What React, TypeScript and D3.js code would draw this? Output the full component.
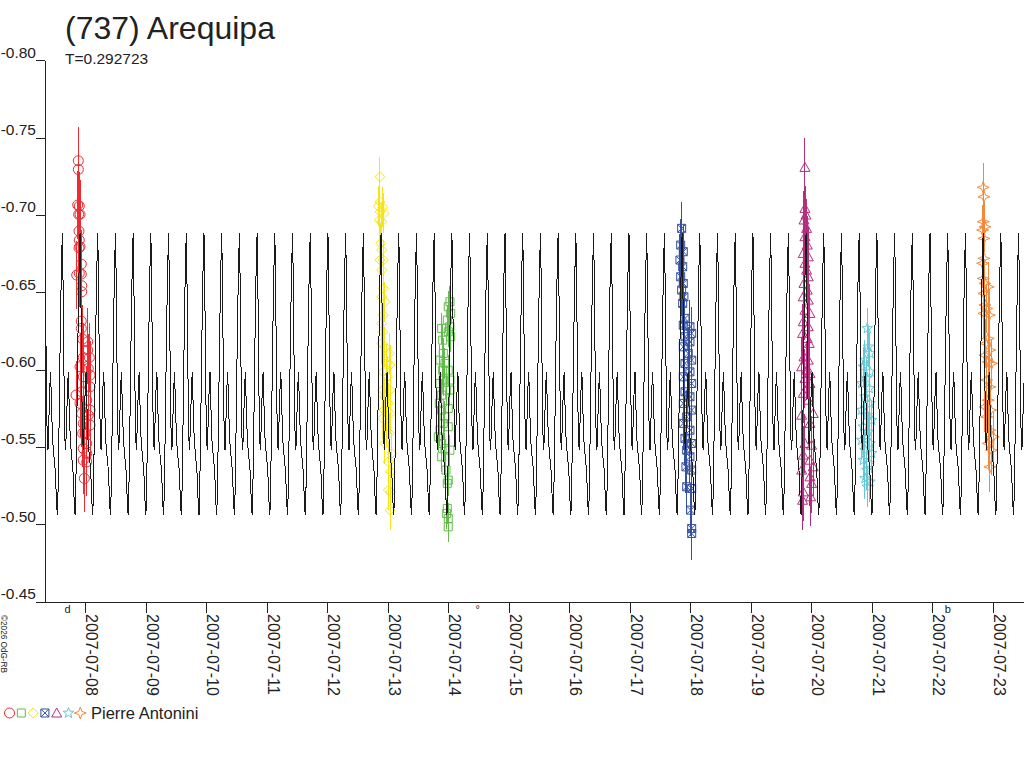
import React from "react";
import * as d3 from "d3";

// ---------- data ----------
const TITLE = "(737) Arequipa";
const PERIOD_LABEL = "T=0.292723";
const PERIOD = 0.292723; // days
const EPOCH = -0.3868; // day offset (from 2007-07-08 0h UT) of a primary maximum
const BASE_DATE = Date.UTC(2007, 6, 8);
const X_DOMAIN = [-0.673, 15.51];
const Y_DOMAIN = [-0.8, -0.45];
const Y_TICKS = [-0.8, -0.75, -0.7, -0.65, -0.6, -0.55, -0.5, -0.45];
const DAY_TICKS = [0, 1, 2, 3, 4, 5, 6, 7, 8, 9, 10, 11, 12, 13, 14, 15];
const OBSERVER = "Pierre Antonini";
const COPYRIGHT = "©2026 OdG-RB";
const MOON_T = [-0.3, 6.48, 14.25];
const MOON_S = ["d", "°", "b"];

// model lightcurve: one rotation, phase 0 = primary maximum
const MODEL_PHASE = [0, 0.03, 0.07, 0.11, 0.15, 0.19, 0.24, 0.3, 0.34, 0.38, 0.45, 0.52, 0.6, 0.68, 0.72, 0.76, 0.82, 0.88, 0.94];
const MODEL_MAG = [-0.6886, -0.6679, -0.6258, -0.5805, -0.5547, -0.5482, -0.5676, -0.5902, -0.5986, -0.5805, -0.5547, -0.545, -0.5353, -0.5126, -0.5062, -0.5223, -0.5676, -0.6193, -0.6614];

// session 1 (red circles)
const S1_T = [-0.122, -0.122, -0.132, -0.106, -0.116, -0.094, -0.111, -0.106, -0.094, -0.111, -0.073, -0.106, -0.073, -0.149, -0.066, -0.066, -0.073, -0.073, -0.05, 0.033, 0.033, 0.06, -0.04, 0.043, -0.094, -0.04, 0.071, -0.16, -0.066, 0.071, 0.017, -0.094, -0.066, 0.043, 0.071, -0.04, 0.071, -0.012, -0.05, 0.017, -0.04, 0.017, -0.04, 0.017, -0.023];
const S1_M = [-0.7353, -0.7297, -0.7067, -0.706, -0.7006, -0.7006, -0.6898, -0.684, -0.6797, -0.679, -0.6685, -0.6625, -0.662, -0.6614, -0.6545, -0.6506, -0.6316, -0.6269, -0.62, -0.6182, -0.6129, -0.6081, -0.6081, -0.601, -0.6021, -0.5956, -0.5967, -0.5838, -0.5859, -0.5891, -0.5805, -0.5784, -0.5719, -0.5708, -0.5741, -0.5655, -0.5644, -0.559, -0.559, -0.5525, -0.5493, -0.5461, -0.5417, -0.5406, -0.5299];
const S1_ERR = 0.022;

// session 2 (yellow diamonds)
const S2_T = [4.864, 4.864, 4.836, 4.909, 4.864, 4.93, 4.853, 4.893, 4.876, 4.893, 4.864, 4.919, 4.893, 4.919, 4.893, 4.947, 4.919, 4.893, 4.919, 4.893, 4.947, 5.018, 4.975, 5.03, 4.919, 4.985, 4.909, 5.03, 4.947, 5.002, 4.93, 5.03, 4.909, 4.975, 5.018, 4.947, 5.058, 5.002, 5.041, 5.002, 5.041, 5.03];
const S2_M = [-0.725, -0.7088, -0.706, -0.7052, -0.7023, -0.7013, -0.697, -0.6959, -0.6819, -0.6776, -0.6711, -0.6711, -0.6646, -0.6528, -0.6473, -0.6441, -0.6355, -0.6301, -0.6247, -0.6172, -0.615, -0.6107, -0.6043, -0.6032, -0.5988, -0.5956, -0.587, -0.587, -0.5827, -0.5784, -0.5741, -0.5719, -0.5687, -0.5633, -0.559, -0.5525, -0.5461, -0.5406, -0.5342, -0.5223, -0.5212, -0.5094];
const S2_ERR = 0.013;

// session 3 (green squares)
const S3_T = [6.021, 5.993, 6.033, 5.977, 6.021, 5.993, 6.033, 5.884, 5.901, 5.911, 5.856, 5.939, 5.901, 5.993, 6.021, 5.911, 5.856, 5.967, 5.884, 6.021, 5.845, 5.993, 5.939, 5.884, 5.911, 5.993, 5.856, 5.828, 5.884, 5.939, 6.021, 5.884, 5.955, 5.993, 5.977, 5.977, 5.967, 5.993, 5.993];
const S3_M = [-0.6441, -0.6409, -0.6366, -0.6323, -0.628, -0.6247, -0.6215, -0.6269, -0.6193, -0.6107, -0.6064, -0.6043, -0.5999, -0.5999, -0.5935, -0.5935, -0.5913, -0.587, -0.5838, -0.587, -0.5784, -0.5752, -0.5697, -0.5741, -0.5655, -0.5633, -0.5611, -0.5568, -0.5525, -0.5493, -0.5482, -0.5439, -0.5353, -0.5288, -0.5267, -0.5105, -0.5072, -0.504, -0.4986];
const S3_ERR = 0.01;

// session 4 (blue crossed squares)
const S4_T = [9.851, 9.835, 9.878, 9.823, 9.868, 9.835, 9.878, 9.851, 9.888, 9.868, 9.906, 9.878, 9.988, 10.017, 9.906, 9.988, 9.878, 9.96, 10.017, 9.906, 9.988, 9.878, 10.017, 9.906, 9.988, 9.878, 10.017, 9.934, 9.878, 9.988, 9.906, 10.017, 9.934, 9.988, 9.922, 10.017, 9.934, 10.017, 10.0, 10.017, 10.017];
const S4_M = [-0.6916, -0.6808, -0.6765, -0.6711, -0.6668, -0.6603, -0.656, -0.6517, -0.6473, -0.6431, -0.6334, -0.629, -0.628, -0.6237, -0.6215, -0.6182, -0.615, -0.6107, -0.6064, -0.6043, -0.5988, -0.5956, -0.5913, -0.5859, -0.5827, -0.5784, -0.5741, -0.5697, -0.5655, -0.5611, -0.5558, -0.5525, -0.5482, -0.5439, -0.5374, -0.5353, -0.5245, -0.5234, -0.5094, -0.4975, -0.4943];
const S4_ERR = 0.017;

// session 5 (magenta triangles)
const S5_T = [11.889, 11.889, 11.906, 11.873, 11.917, 11.889, 11.927, 11.861, 11.944, 11.889, 11.917, 11.944, 11.873, 11.927, 11.861, 11.944, 11.889, 11.972, 11.861, 11.944, 11.851, 11.927, 11.96, 11.873, 11.944, 11.835, 11.917, 11.972, 11.889, 11.972, 11.861, 11.944, 12.026, 11.835, 11.972, 11.889, 11.999, 11.861, 11.972, 12.026, 11.835, 11.972, 11.999, 11.861, 11.983, 11.851];
const S5_M = [-0.731, -0.7045, -0.7002, -0.697, -0.6916, -0.6862, -0.6808, -0.6754, -0.6732, -0.669, -0.6646, -0.6603, -0.656, -0.6517, -0.6473, -0.6452, -0.6387, -0.6366, -0.6312, -0.628, -0.6237, -0.6204, -0.6172, -0.6085, -0.6064, -0.6021, -0.5999, -0.5978, -0.5946, -0.5913, -0.5849, -0.5805, -0.5719, -0.5708, -0.5655, -0.5525, -0.5514, -0.545, -0.5417, -0.5374, -0.5353, -0.5309, -0.5267, -0.5212, -0.518, -0.5158];
const S5_ERR = 0.019;

// session 6 (cyan stars)
const S6_T = [12.919, 12.936, 12.964, 12.881, 12.853, 12.964, 12.909, 12.826, 12.952, 12.881, 12.964, 12.826, 12.919, 12.992, 12.853, 12.936, 12.826, 12.964, 12.881, 12.992, 12.853, 12.952, 12.909, 12.881, 12.964, 12.919];
const S6_M = [-0.6269, -0.615, -0.6107, -0.6064, -0.6021, -0.5988, -0.5946, -0.5913, -0.5881, -0.5827, -0.5784, -0.5741, -0.5708, -0.5676, -0.5633, -0.56, -0.5547, -0.5525, -0.5482, -0.5461, -0.5417, -0.5396, -0.5353, -0.5299, -0.5277, -0.5245];
const S6_ERR = 0.013;

// session 7 (orange four-point stars)
const S7_T = [14.836, 14.848, 14.836, 14.865, 14.826, 14.848, 14.848, 14.826, 14.836, 14.865, 14.919, 14.848, 14.865, 14.893, 14.848, 14.936, 14.919, 14.881, 14.947, 14.865, 14.919, 14.975, 14.893, 14.947, 14.919, 14.865, 14.959, 14.893, 14.947, 15.002, 14.919, 14.975, 14.947];
const S7_M = [-0.7181, -0.712, -0.6959, -0.6926, -0.6905, -0.6851, -0.6722, -0.669, -0.6592, -0.656, -0.6538, -0.6495, -0.642, -0.6398, -0.6366, -0.6355, -0.6204, -0.6172, -0.6129, -0.6096, -0.6053, -0.6043, -0.5935, -0.5891, -0.5805, -0.5762, -0.5741, -0.5697, -0.5611, -0.5568, -0.5525, -0.5482, -0.5374];
const S7_ERR = 0.016;

const SERIES = [
  { t: S1_T, m: S1_M, err: S1_ERR, color: "#ec2b32", symbol: "circle" },
  { t: S3_T, m: S3_M, err: S3_ERR, color: "#62bb4c", symbol: "square" },
  { t: S2_T, m: S2_M, err: S2_ERR, color: "#f5e517", symbol: "diamond" },
  { t: S4_T, m: S4_M, err: S4_ERR, color: "#34509f", symbol: "xsquare" },
  { t: S5_T, m: S5_M, err: S5_ERR, color: "#b32f7e", symbol: "triangle" },
  { t: S6_T, m: S6_M, err: S6_ERR, color: "#66c7d7", symbol: "star" },
  { t: S7_T, m: S7_M, err: S7_ERR, color: "#f4883a", symbol: "star4" },
];
const LEGEND_ORDER = ["circle", "square", "diamond", "xsquare", "triangle", "star", "star4"];

// ---------- geometry ----------
const W = 1024;
const H = 768;
const LEFT = 45;
const RIGHT = 1024;
const TOP = 60.7;
const BOTTOM = 602;
const FONT = "'Liberation Sans', Arial, Helvetica, sans-serif";
const INK = "#222";

function starPath(nPts: number, outer: number, inner: number) {
  const p: string[] = [];
  for (let i = 0; i < nPts * 2; i++) {
    const r = i % 2 === 0 ? outer : inner;
    const a = -Math.PI / 2 + (i * Math.PI) / nPts;
    p.push(`${(r * Math.cos(a)).toFixed(2)},${(r * Math.sin(a)).toFixed(2)}`);
  }
  return "M" + p.join("L") + "Z";
}

const SYMBOL_PATHS: Record<string, string> = {
  circle: "M5,0A5,5 0 1 1 -5,0A5,5 0 1 1 5,0Z",
  square: "M-4,-4H4V4H-4Z",
  diamond: "M0,-5L5,0L0,5L-5,0Z",
  xsquare: "M-4,-4H4L-4,4H4M-4,-4L4,4M-4,-4V4M4,-4V4",
  triangle: "M0,-5L5,4H-5Z",
  star: starPath(5, 5.5, 2.3),
  star4: "M0,-6L1.6,-1.6L6,0L1.6,1.6L0,6L-1.6,1.6L-6,0L-1.6,-1.6Z",
};

export default function App() {
  const x = d3.scaleLinear().domain(X_DOMAIN).range([LEFT, RIGHT]);
  const y = d3.scaleLinear().domain(Y_DOMAIN).range([TOP, BOTTOM]);
  const fmtDate = d3.utcFormat("%Y-%m-%d");

  // model curve
  const model: [number, number][] = [];
  const k0 = Math.floor((X_DOMAIN[0] - EPOCH) / PERIOD) - 1;
  const k1 = Math.ceil((X_DOMAIN[1] - EPOCH) / PERIOD) + 1;
  for (let k = k0; k <= k1; k++) {
    MODEL_PHASE.forEach((ph, i) => {
      model.push([EPOCH + (k + ph) * PERIOD, MODEL_MAG[i]]);
    });
  }
  const line = d3
    .line<[number, number]>()
    .x((d) => x(d[0]))
    .y((d) => y(d[1]));

  return (
    <svg
      width={W}
      height={H}
      style={{ position: "absolute", left: 0, top: 0, background: "#fff" }}
      fontFamily={FONT}
    >
      <defs>
        <clipPath id="plot">
          <rect x={LEFT} y={0} width={RIGHT - LEFT} height={BOTTOM} />
        </clipPath>
      </defs>

      {/* title */}
      <text x={65} y={39} fontSize={32} fill={INK}>
        {TITLE}
      </text>
      <text x={65} y={64} fontSize={15.5} fill={INK}>
        {PERIOD_LABEL}
      </text>

      {/* y axis */}
      <line x1={LEFT} x2={LEFT} y1={TOP} y2={BOTTOM} stroke={INK} strokeWidth={1} shapeRendering="crispEdges" />
      {Y_TICKS.map((v) => (
        <g key={v}>
          <line x1={36} x2={LEFT} y1={y(v)} y2={y(v)} stroke={INK} strokeWidth={1} shapeRendering="crispEdges" />
          <text x={36} y={y(v) - 3} fontSize={15.5} textAnchor="end" fill={INK}>
            {v.toFixed(2)}
          </text>
        </g>
      ))}

      {/* x axis */}
      <line x1={36} x2={RIGHT} y1={BOTTOM} y2={BOTTOM} stroke={INK} strokeWidth={1} shapeRendering="crispEdges" />
      {DAY_TICKS.map((d) => (
        <g key={d}>
          <line x1={x(d)} x2={x(d)} y1={BOTTOM} y2={BOTTOM + 11} stroke={INK} strokeWidth={1} shapeRendering="crispEdges" />
          <text
            transform={`translate(${x(d) + 0.5},${BOTTOM + 12}) rotate(90)`}
            fontSize={16}
            fill={INK}
          >
            {fmtDate(new Date(BASE_DATE + d * 864e5))}
          </text>
        </g>
      ))}
      {MOON_T.map((t, i) => (
        <text key={i} x={x(t)} y={BOTTOM + 11} fontSize={11} textAnchor="middle" fill={INK}>
          {MOON_S[i]}
        </text>
      ))}

      {/* copyright */}
      <text
        transform={`translate(1,615) rotate(90)`}
        fontSize={9.5}
        textLength={58}
        lengthAdjust="spacingAndGlyphs"
        fill={INK}
      >
        {COPYRIGHT}
      </text>

      {/* observations */}
      <g clipPath="url(#plot)">
        {SERIES.map((s, si) => (
          <g key={si} stroke={s.color} fill="none" strokeWidth={1}>
            {s.t.map((t, i) => (
              <line
                key={"e" + i}
                x1={x(t)}
                x2={x(t)}
                y1={y(s.m[i] - s.err)}
                y2={y(s.m[i] + s.err)}
                shapeRendering="crispEdges"
              />
            ))}
            {s.t.map((t, i) => (
              <path key={"p" + i} d={SYMBOL_PATHS[s.symbol]} transform={`translate(${x(t)},${y(s.m[i])})`} />
            ))}
          </g>
        ))}

        {/* model */}
        <path d={line(model) || ""} fill="none" stroke="#1a1a1a" strokeWidth={1} shapeRendering="crispEdges" />
      </g>

      {/* legend */}
      <g fill="none" strokeWidth={1}>
        {LEGEND_ORDER.map((sym, i) => {
          const s = SERIES.find((q) => q.symbol === sym)!;
          return (
            <path key={sym} d={SYMBOL_PATHS[sym]} stroke={s.color} transform={`translate(${9.5 + i * 11.8},713)`} />
          );
        })}
      </g>
      <text x={91} y={718.5} fontSize={16.5} fill={INK}>
        {OBSERVER}
      </text>
    </svg>
  );
}
